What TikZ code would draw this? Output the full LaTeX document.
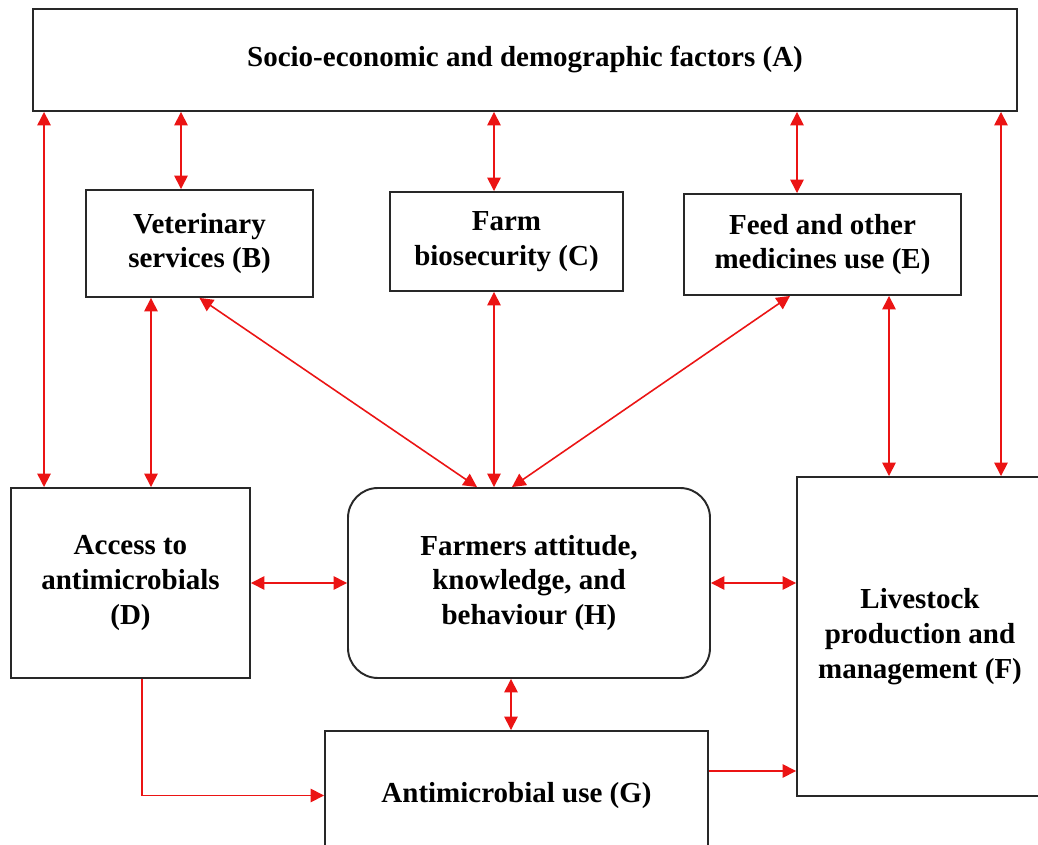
\documentclass[tikz,border=0pt]{standalone}
\usepackage{fontspec}
\setmainfont{Liberation Serif}
\usepackage{tikz}
\usetikzlibrary{arrows.meta,positioning,calc}
\definecolor{boxGray}{RGB}{40,40,40}
\definecolor{linkRed}{RGB}{235,20,20}

\begin{document}
\begin{tikzpicture}[
        box/.style={draw=boxGray, line width=1.1pt, fill=white, align=center,
          inner sep=0pt, font=\fontsize{16.5}{19.8}\selectfont\bfseries},
        roundbox/.style={box, rounded corners=0.6cm},
        link/.style={draw=linkRed, line width=0.9pt,
          {Triangle[length=0.27cm,width=0.27cm]}-{Triangle[length=0.27cm,width=0.27cm]}},
        flow/.style={draw=linkRed, line width=0.9pt,
          -{Triangle[length=0.27cm,width=0.27cm]}}
      ]
        \clip (0,0) rectangle (20.76,-16.9);
        \fill[white] (0,0) rectangle (20.76,-16.9);
        % boxes
        \node[box, minimum width=19.68cm, minimum height=2.04cm] (A) at (10.5,-1.2)
          {Socio-economic and demographic factors (A)};
        \node[box, minimum width=4.54cm, minimum height=2.14cm] (B) at (3.99,-4.87)
          {Veterinary\\services (B)};
        \node[box, minimum width=4.66cm, minimum height=1.98cm] (C) at (10.13,-4.83)
          {Farm\\biosecurity (C)};
        \node[box, minimum width=5.54cm, minimum height=2.02cm] (E) at (16.45,-4.89)
          {Feed and other\\medicines use (E)};
        \node[box, minimum width=4.78cm, minimum height=3.8cm] (D) at (2.61,-11.66)
          {Access to\\antimicrobials\\(D)};
        \node[roundbox, minimum width=7.24cm, minimum height=3.8cm] (H) at (10.58,-11.66)
          {Farmers attitude,\\knowledge, and\\behaviour (H)};
        \node[box, minimum width=7.66cm, minimum height=2.58cm] (G) at (10.33,-15.91)
          {Antimicrobial use (G)};
        \node[box, minimum width=4.92cm, minimum height=6.38cm] (F) at (18.4,-12.73)
          {Livestock\\production and\\management (F)};
        % anchor points for the vertical links
        \coordinate (dA) at ([xshift=0.68cm]D.north west);
        \coordinate (bA) at ([xshift=-0.37cm]B.north);
        \coordinate (cA) at ([xshift=-0.25cm]C.north);
        \coordinate (eA) at ([xshift=-0.51cm]E.north);
        \coordinate (fA) at ([xshift=1.62cm]F.north);
        \coordinate (bD) at ([xshift=-0.97cm]B.south);
        \coordinate (cH) at ([xshift=-0.25cm]C.south);
        \coordinate (eF) at ([xshift=1.33cm]E.south);
        \coordinate (hG) at ([xshift=-0.36cm]H.south);
        \coordinate (dG) at ([xshift=0.23cm]D.south);
        \coordinate (gF) at ([yshift=0.49cm]G.east);
        % links
        \draw[link] (dA) -- (dA |- A.south);
        \draw[link] (bA) -- (bA |- A.south);
        \draw[link] (cA) -- (cA |- A.south);
        \draw[link] (eA) -- (eA |- A.south);
        \draw[link] (fA) -- (fA |- A.south);
        \draw[link] (bD) -- (bD |- D.north);
        \draw[link] (B.south) -- ([xshift=-1.04cm]H.north);
        \draw[link] (cH) -- (cH |- H.north);
        \draw[link] ([xshift=-0.65cm]E.south) -- ([xshift=-0.34cm]H.north);
        \draw[link] (eF) -- (eF |- F.north);
        \draw[link] (D.east) -- (D.east -| H.west);
        \draw[link] (H.east) -- (H.east -| F.west);
        \draw[link] (hG) -- (hG |- G.north);
        \draw[flow] (dG) |- (G.west);
        \draw[flow] (gF) -- (gF -| F.west);
      \end{tikzpicture}
\end{document}
